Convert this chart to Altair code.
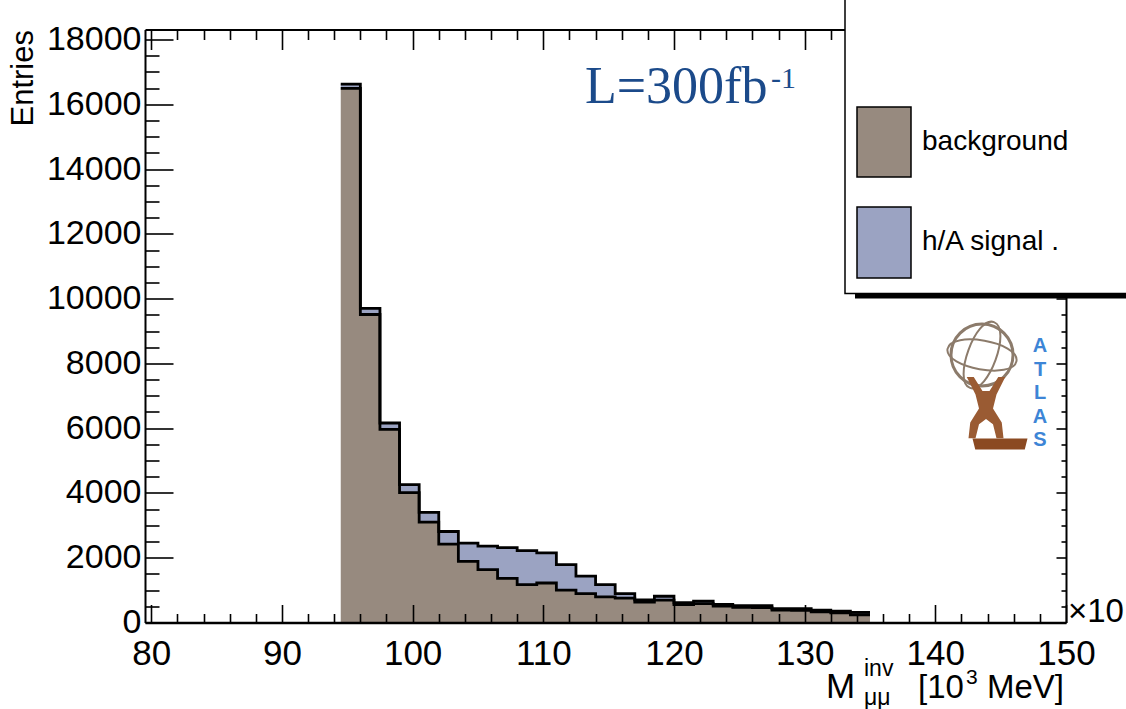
import altair as alt
import pandas as pd

# ---------------- data ----------------
bin_edges = [94.5, 96.0, 97.5, 99.0, 100.5, 102.0, 103.5, 105.0, 106.5, 108.0,
             109.5, 111.0, 112.5, 114.0, 115.5, 117.0, 118.5, 120.0, 121.5, 123.0,
             124.5, 126.0, 127.5, 129.0, 130.5, 132.0, 133.5, 135.0]
background = [16490, 9510, 5960, 4010, 3100, 2420, 1890, 1630, 1360, 1170,
              1220, 1000, 890, 790, 750, 630, 690, 550, 580, 510,
              470, 460, 380, 375, 330, 300, 240]
total = [16620, 9700, 6160, 4260, 3400, 2810, 2450, 2360, 2310, 2220,
         2150, 1790, 1430, 1170, 890, 700, 810, 610, 660, 560,
         520, 520, 430, 430, 380, 350, 310]

x_tick_values = list(range(80, 151, 2))
x_label_values = list(range(80, 151, 10))
y_tick_values = list(range(0, 18001, 500))
y_label_values = list(range(0, 18001, 2000))

legend_labels = ["background", "h/A signal ."]
atlas_letters = ["A", "T", "L", "A", "S"]

BKG = "#978a7f"
SIG = "#9ba3c2"
LUMI = "#1b4a8a"
FONT = "Liberation Sans"

W, H = 921, 593
PAD_L, PAD_T = 145, 29.5

n = len(background)
hist = pd.DataFrame({
    "x": bin_edges,
    "bkg": [background[min(k, n - 1)] for k in range(len(bin_edges))],
    "tot": [total[min(k, n - 1)] for k in range(len(bin_edges))],
})

xs = alt.Scale(domain=[79.52, 150], nice=False, zero=False)
ys = alt.Scale(domain=[0, 18309], nice=False, zero=False)


def xtick(major, minor):
    return {"condition": {"test": "datum.value % 10 === 0", "value": major}, "value": minor}


def ytick(major, minor):
    return {"condition": {"test": "datum.value % 2000 === 0", "value": major}, "value": minor}


# background fill + labelled axes
bkg_area = alt.Chart(hist).mark_area(interpolate="step-after", color=BKG).encode(
    x=alt.X("x:Q", scale=xs, axis=alt.Axis(
        orient="bottom", values=x_label_values, ticks=False, tickSize=0, format="d",
        domain=True, domainColor="black", domainWidth=2.5,
        labelFont=FONT, labelFontSize=35, labelColor="black", labelPadding=14,
        labelFlush=False, labelOverlap=False, grid=False, title=None, zindex=1)),
    y=alt.Y("bkg:Q", scale=ys, stack=None, axis=alt.Axis(
        orient="left", values=y_label_values, ticks=False, tickSize=0, domain=False,
        format="d",
        labelFont=FONT, labelFontSize=34, labelColor="black", labelPadding=4,
        labelFlush=False, labelOverlap=False, grid=False, title=None, zindex=1)),
)

# signal fill stacked on top; carries bottom and left inward ticks
sig_area = alt.Chart(hist).mark_area(interpolate="step-after", color=SIG).encode(
    x=alt.X("x:Q", scale=xs, axis=alt.Axis(
        orient="top", offset=-H, values=x_tick_values, labels=False, domain=False,
        ticks=True, tickSize=xtick(18, 9), tickWidth=1.6, tickColor="black",
        grid=False, title=None, zindex=1)),
    y=alt.Y("tot:Q", scale=ys, stack=None, axis=alt.Axis(
        orient="right", offset=-W, values=y_tick_values, labels=False,
        domain=True, domainColor="black", domainWidth=2,
        ticks=True, tickSize=ytick(28, 14), tickWidth=1.6, tickColor="black",
        grid=False, title=None, zindex=1)),
    y2="bkg:Q",
)

# outline of the stacked total; carries top and right frame
tot_line = alt.Chart(hist).mark_line(
    interpolate="step-after", color="black", strokeWidth=2.8).encode(
    x=alt.X("x:Q", scale=xs, axis=alt.Axis(
        orient="bottom", offset=-H, values=x_tick_values, labels=False,
        domain=True, domainColor="black", domainWidth=2,
        ticks=True, tickSize=xtick(20, 10), tickWidth=1.6, tickColor="black",
        grid=False, title=None, zindex=0)),
    y=alt.Y("tot:Q", scale=ys, stack=None, axis=alt.Axis(
        orient="left", offset=-W, values=y_tick_values, labels=False,
        domain=True, domainColor="black", domainWidth=2,
        ticks=True, tickSize=ytick(10, 5), tickWidth=1.6, tickColor="black",
        grid=False, title=None, zindex=0)),
)

bkg_line = alt.Chart(hist).mark_line(
    interpolate="step-after", color="black", strokeWidth=2.8).encode(
    x=alt.X("x:Q", scale=xs, axis=None),
    y=alt.Y("bkg:Q", scale=ys, stack=None, axis=None),
)

one = pd.DataFrame({"a": [0]})


def txt(text, x, y, size, **kw):
    return alt.Chart(one).mark_text(text=text, fontSize=size, **kw).encode(
        x=alt.value(x - PAD_L), y=alt.value(y - PAD_T))


def box(x0, x1, y0, y1, **kw):
    return alt.Chart(one).mark_rect(**kw).encode(
        x=alt.value(x0 - PAD_L), x2=alt.value(x1 - PAD_L),
        y=alt.value(y0 - PAD_T), y2=alt.value(y1 - PAD_T))


# legend
leg_box = box(845, 1150, -20, 293.5, fill="white", stroke="black", strokeWidth=1.5)
leg_shadow = box(855, 1150, 293.5, 298.5, fill="black")
sw_bkg = box(857, 911, 107, 177, fill=BKG, stroke="black", strokeWidth=1.5)
sw_sig = box(857, 911, 207, 278, fill=SIG, stroke="black", strokeWidth=1.5)
leg_t1 = txt(legend_labels[0], 922, 142, 28, font=FONT, align="left", baseline="middle", color="black")
leg_t2 = txt(legend_labels[1], 922, 242, 28, font=FONT, align="left", baseline="middle", color="black")

# luminosity label
lumi1 = txt("L=300fb", 585, 103, 52, font="Liberation Serif", align="left",
            baseline="alphabetic", color=LUMI)
lumi2 = txt("-1", 771, 88, 30, font="Liberation Serif", align="left",
            baseline="alphabetic", color=LUMI)

# axis titles
ytitle = txt("Entries", 24, 30, 31, font=FONT, align="right", baseline="middle",
             angle=270, color="black")
xt = [
    txt("M", 826, 698, 35, font=FONT, align="left", baseline="alphabetic", color="black"),
    txt("inv", 864, 676, 23, font=FONT, align="left", baseline="alphabetic", color="black"),
    txt("μμ", 864, 705, 23, font=FONT, align="left", baseline="alphabetic", color="black"),
    txt("[10", 918, 698, 33, font=FONT, align="left", baseline="alphabetic", color="black"),
    txt("3", 966, 684, 21, font=FONT, align="left", baseline="alphabetic", color="black"),
    txt("MeV]", 987, 698, 33, font=FONT, align="left", baseline="alphabetic", color="black"),
]
times10 = txt("×10", 1068, 622, 33, font=FONT, align="left", baseline="alphabetic", color="black")

# ATLAS logo (approximation)
def sym(shape, x, y, size, **kw):
    return alt.Chart(one).mark_point(shape=shape, size=size, **kw).encode(
        x=alt.value(x - PAD_L), y=alt.value(y - PAD_T))

globe = sym("circle", 982, 355, 3848, filled=False, stroke="#8c7b6b", strokeWidth=3, opacity=1)
ellipse = "M0,-1 C0.55,-1 0.55,1 0,1 C-0.55,1 -0.55,-1 0,-1 Z"
mer1 = sym(ellipse, 982, 355, 4900, filled=False, stroke="#8c7b6b", strokeWidth=2, angle=20, opacity=1)
mer2 = sym(ellipse, 982, 355, 4900, filled=False, stroke="#8c7b6b", strokeWidth=2, angle=100, opacity=1)
body_path = ("M -0.55,-1 L -0.3,-0.5 L -0.2,-0.1 L -0.45,0.3 L -0.5,0.75 L -0.3,0.75 "
             "L -0.2,0.35 L 0,0.2 L 0.2,0.35 L 0.3,0.75 L 0.5,0.75 L 0.45,0.3 L 0.2,-0.1 "
             "L 0.3,-0.5 L 0.55,-1 L 0.35,-1 L 0.1,-0.6 L -0.1,-0.6 L -0.35,-1 Z")
body = sym(body_path, 986, 412, 4900, filled=True, fill="#9a5b33", strokeWidth=0, opacity=1)
pedestal = sym("M -1,-0.2 L 1,-0.2 L 0.9,0.2 L -0.9,0.2 Z", 1000, 444, 3025,
               filled=True, fill="#8b4a22", strokeWidth=0, opacity=1)
letters_df = pd.DataFrame({"t": atlas_letters, "yy": [346, 369.5, 393, 416.5, 440]})
letters = alt.Chart(letters_df).mark_text(
    font=FONT, fontSize=20, fontWeight="bold", color="#3d85d6", baseline="middle").encode(
    x=alt.value(1040 - PAD_L),
    y=alt.Y("yy:Q", scale=alt.Scale(domain=[PAD_T, PAD_T + H], range=[0, H]), axis=None),
    text="t:N")

chart = alt.layer(
    bkg_area, sig_area, tot_line, bkg_line,
    leg_box, leg_shadow, sw_bkg, sw_sig, leg_t1, leg_t2,
    lumi1, lumi2, ytitle, *xt, times10,
    globe, mer1, mer2, body, pedestal, letters,
).resolve_axis(x="independent", y="independent").resolve_scale(
    y="independent"
).properties(
    width=W, height=H,
    padding={"left": PAD_L, "top": PAD_T, "right": 1126 - PAD_L - W, "bottom": 709 - PAD_T - H},
    autosize=alt.AutoSizeParams(type="none"),
    background="white",
).configure_view(stroke=None)

chart.save("out.html", embed_options={"renderer": "svg", "actions": False})
